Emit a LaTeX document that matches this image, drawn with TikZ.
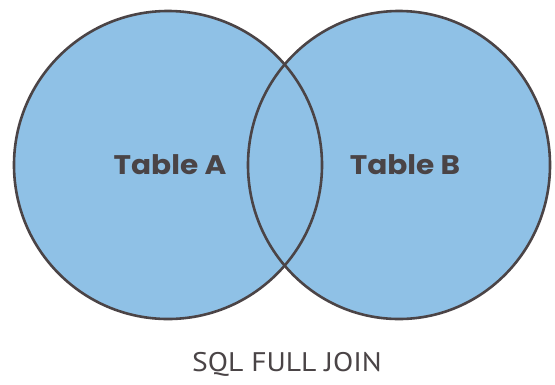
\documentclass[tikz,border=0pt]{standalone}
\usepackage{fontspec}
\setmainfont{Poppins}
\newfontfamily\captionfont{PT Sans}
\definecolor{setblue}{HTML}{8FC1E6}
\definecolor{rimgray}{HTML}{4B4446}
\definecolor{labelgray}{HTML}{4A4446}
\begin{document}
\begin{tikzpicture}[x=1bp,y=-1bp,
  setfill/.style={fill=setblue,draw=none},
  setrim/.style={draw=rimgray,line width=2.6bp},
  setlabel/.style={text=labelgray,font=\bfseries\fontsize{27}{30}\selectfont,
    inner sep=0pt,xscale=1.1,transform shape},
  caption/.style={text=labelgray,font=\captionfont\fontsize{27}{30}\selectfont,
    inner sep=0pt,xscale=1.1,transform shape}]
  \useasboundingbox[fill=white] (0,0) rectangle (555,384);
  % the two sets: fills first, outlines on top
  \fill[setfill] (168,165) circle (154);
  \fill[setfill] (399,165) ellipse (151 and 154);
  \draw[setrim] (168,165) circle (154);
  \draw[setrim] (399,165) ellipse (151 and 154);
  \node[setlabel] (ta) at (170,165) {Table A};
  \node[setlabel] (tb) at (405,165) {Table B};
  \node[caption] (cap) at (287,364) {SQL FULL JOIN};
\end{tikzpicture}
\end{document}
